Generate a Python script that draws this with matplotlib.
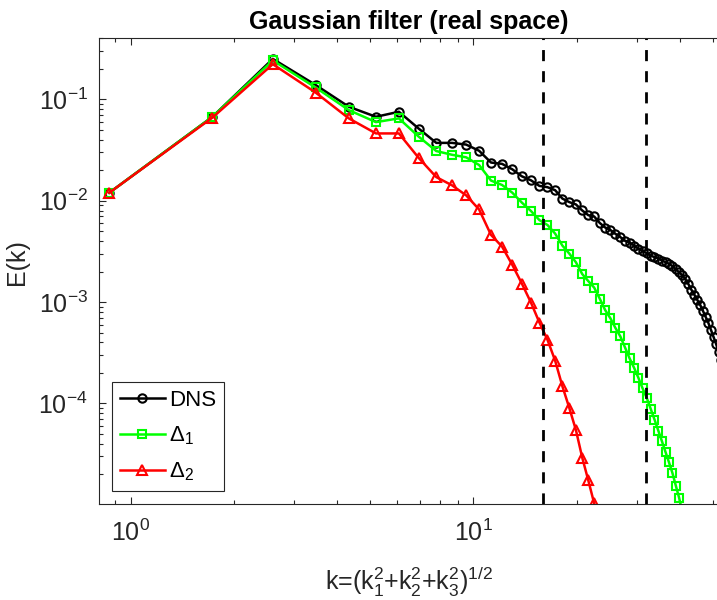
import matplotlib.pyplot as plt
from matplotlib import ticker

plt.rcParams['font.family'] = ['Liberation Sans', 'DejaVu Sans']
plt.rcParams['mathtext.fontset'] = 'custom'
plt.rcParams['mathtext.rm'] = 'Liberation Sans'
plt.rcParams['mathtext.it'] = 'Liberation Sans:italic'
plt.rcParams['mathtext.bf'] = 'Liberation Sans:bold'
plt.rcParams['mathtext.default'] = 'regular'
plt.rcParams['axes.unicode_minus'] = False

# wavenumber shells
k = [0.866, 1.732, 2.598, 3.464, 4.330, 5.196, 6.062, 6.928, 7.794, 8.660,
     9.526, 10.392, 11.258, 12.124, 12.990, 13.856, 14.722, 15.588, 16.454, 17.321,
     18.187, 19.053, 19.919, 20.785, 21.651, 22.517, 23.383, 24.249, 25.115, 25.981,
     26.847, 27.713, 28.579, 29.445, 30.311, 31.177, 32.043, 32.909, 33.775, 34.641,
     35.507, 36.373, 37.239, 38.105, 38.971, 39.837, 40.703, 41.569, 42.435, 43.301,
     44.167, 45.033, 45.899, 46.765, 47.631, 48.497, 49.363, 50.229, 51.095, 51.962,
     52.828]

E_dns = [0.0120, 0.0673, 0.2506, 0.1386, 0.0845, 0.0673, 0.0754, 0.0514, 0.0372, 0.0372,
         0.0358, 0.0311, 0.0238, 0.0231, 0.0204, 0.0174, 0.0159, 0.0140, 0.0136, 0.0127,
         0.0105, 0.00969, 0.00919, 0.00801, 0.00720, 0.00699, 0.00603, 0.00544, 0.00514, 0.00471,
         0.00438, 0.00402, 0.00387, 0.00361, 0.00335, 0.00319, 0.00304, 0.00287, 0.00278, 0.00269,
         0.00257, 0.00248, 0.00239, 0.00226, 0.00211, 0.00197, 0.00184, 0.00168, 0.00150, 0.00132,
         0.00118, 0.00105, 0.000940, 0.000820, 0.000715, 0.000624, 0.000532, 0.000453, 0.000386, 0.000322,
         0.000269]

E_d1 = [0.0120, 0.0673, 0.242, 0.1309, 0.0783, 0.0596, 0.0649, 0.0428, 0.0309, 0.0284,
        0.0268, 0.0225, 0.0158, 0.0143, 0.0120, 0.00957, 0.00792, 0.00644, 0.00576, 0.00474,
        0.00361, 0.00301, 0.00247, 0.00189, 0.00161, 0.00139, 0.00108, 0.000834, 0.000692, 0.000555,
        0.000459, 0.000356, 0.000278, 0.000225, 0.000179, 0.000141, 0.000114, 8.89e-5, 6.95e-5, 5.41e-5,
        4.24e-5, 3.32e-5, 2.62e-5, 2.06e-5, 1.55e-5, 1.18e-5, 8.5e-6]

E_d2 = [0.0120, 0.0661, 0.2222, 0.1167, 0.0649, 0.0461, 0.0461, 0.0264, 0.0171, 0.0142,
        0.0113, 0.00820, 0.00460, 0.00353, 0.00233, 0.00152, 0.000991, 0.000628, 0.000425, 0.000265,
        0.000148, 9.04e-5, 5.47e-5, 2.92e-5, 1.74e-5, 1.035e-5]

k_cut = [16, 32]

fig = plt.figure(figsize=(7.17, 6.0), dpi=100)
ax = fig.add_axes([99 / 717, 96 / 600, 620 / 717, 465.7 / 600])

ax.loglog(k[:len(E_dns)], E_dns, '-o', color='k', lw=1.8, ms=6, mfc='none', mew=1.5, label='DNS')
ax.loglog(k[:len(E_d1)], E_d1, '-s', color=(0, 1, 0), lw=1.8, ms=5.5, mfc='none', mew=1.5,
          label=r'$\Delta_1$')
ax.loglog(k[:len(E_d2)], E_d2, '-^', color=(1, 0, 0), lw=1.8, ms=6.5, mfc='none', mew=1.5,
          label=r'$\Delta_2$')
for kc in k_cut:
    ax.axvline(kc, color='k', lw=2, ls=(0, (4, 3.6)))

ax.set_xlim(0.808, 52.1)
ax.set_ylim(1.02e-5, 0.40)
ax.set_xticks([1, 10])
ax.set_yticks([1e-4, 1e-3, 1e-2, 1e-1])
ax.xaxis.set_minor_locator(ticker.LogLocator(base=10, subs=range(2, 10), numticks=50))
ax.yaxis.set_minor_locator(ticker.LogLocator(base=10, subs=range(2, 10), numticks=50))
ax.xaxis.set_minor_formatter(ticker.NullFormatter())
ax.yaxis.set_minor_formatter(ticker.NullFormatter())

gray = (0.15, 0.15, 0.15)
ax.tick_params(which='both', direction='in', top=True, right=False, colors=gray, labelsize=18)
ax.tick_params(which='major', length=5, width=0.8)
ax.tick_params(which='minor', length=3, width=0.8)
ax.tick_params(axis='x', which='major', pad=11)
ax.tick_params(axis='y', which='major', pad=8)
for s in ax.spines.values():
    s.set_color(gray)
    s.set_linewidth(0.8)
ax.spines['right'].set_visible(False)

ax.set_xlabel(r'k=(k$_1^2$+k$_2^2$+k$_3^2$)$^{1/2}$', fontsize=18, color=gray)
ax.set_ylabel('E(k)', fontsize=18, color=gray)
ax.xaxis.set_label_coords(0.5, -0.131)
ax.yaxis.set_label_coords(-0.113, 0.52)
ax.set_title('Gaussian filter (real space)', fontsize=18, fontweight='bold', pad=7)

leg = ax.legend(loc='lower left', bbox_to_anchor=(0.0215, 0.0286), borderaxespad=0,
                fontsize=16, fancybox=False, edgecolor=gray, framealpha=1,
                handlelength=2.0, handletextpad=0.2, labelspacing=0.6, borderpad=0.35)
leg.get_frame().set_linewidth(0.8)

fig.savefig('out.png', dpi=100)
